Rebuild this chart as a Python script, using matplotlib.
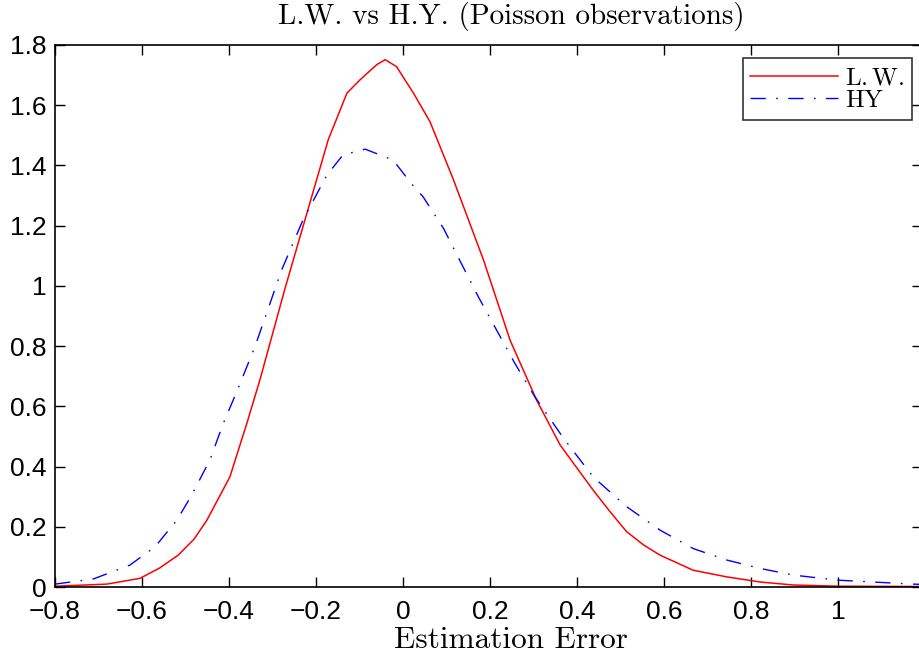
import numpy as np
import matplotlib.pyplot as plt

plt.rcParams['font.family'] = ['Liberation Sans Narrow', 'Liberation Sans', 'DejaVu Sans']
plt.rcParams['axes.unicode_minus'] = True
plt.rcParams['mathtext.fontset'] = 'cm'

# L.W. estimator error density
lw_x = [-0.8, -0.681, -0.605, -0.56, -0.517, -0.48, -0.451, -0.398, -0.359,
        -0.329, -0.271, -0.21, -0.172, -0.129, -0.099, -0.06, -0.041, -0.015,
        0.024, 0.062, 0.116, 0.185, 0.246, 0.307, 0.361, 0.437, 0.476, 0.514,
        0.553, 0.591, 0.667, 0.744, 0.821, 0.897, 1.0, 1.193]
lw_y = [0.003, 0.01, 0.029, 0.063, 0.106, 0.16, 0.222, 0.366, 0.544,
        0.688, 0.993, 1.296, 1.485, 1.64, 1.684, 1.735, 1.751, 1.728,
        1.64, 1.545, 1.352, 1.086, 0.82, 0.621, 0.472, 0.322, 0.25, 0.184,
        0.14, 0.106, 0.056, 0.034, 0.017, 0.007, 0.003, 0.002]

# HY estimator error density
hy_x = [-0.8, -0.712, -0.628, -0.57, -0.52, -0.486, -0.444, -0.413, -0.379,
        -0.34, -0.279, -0.23, -0.175, -0.138, -0.087, -0.023, 0.02, 0.046,
        0.093, 0.173, 0.257, 0.303, 0.369, 0.437, 0.514, 0.591, 0.667, 0.744,
        0.821, 0.897, 1.0, 1.172, 1.193]
hy_y = [0.01, 0.027, 0.073, 0.134, 0.222, 0.305, 0.422, 0.544, 0.66,
        0.8, 1.053, 1.219, 1.368, 1.435, 1.454, 1.418, 1.338, 1.296,
        1.191, 0.964, 0.743, 0.632, 0.494, 0.366, 0.267, 0.189, 0.128, 0.09,
        0.062, 0.04, 0.023, 0.01, 0.009]

x_ticks = [-0.8, -0.6, -0.4, -0.2, 0, 0.2, 0.4, 0.6, 0.8, 1]
y_ticks = [0, 0.2, 0.4, 0.6, 0.8, 1, 1.2, 1.4, 1.6, 1.8]

fig = plt.figure(figsize=(9.2, 6.56), dpi=100)
# right spine sits just past the canvas edge, as in the original crop
ax = fig.add_axes([0.0598, 0.105, 0.9424, 0.8265])

ax.plot(lw_x, lw_y, '-', color='red', linewidth=1.1, label=r'$\mathrm{L.W.}$')
ax.plot(hy_x, hy_y, color='blue', linewidth=1.0, dashes=(11, 7.5, 1.2, 7.5),
        label=r'$\mathrm{HY}$')

ax.set_xlim(-0.8, 1.193)
ax.set_ylim(0, 1.8)
ax.set_xticks(x_ticks)
ax.set_yticks(y_ticks)
ax.set_xticklabels(['%g' % v if v >= 0 else '\u2212%g' % -v for v in x_ticks])
ax.set_yticklabels(['%g' % v for v in y_ticks])
ax.tick_params(direction='in', top=True, right=True, length=7, width=1,
               labelsize=19)
ax.tick_params(axis='x', pad=9)
ax.tick_params(axis='y', pad=6)
for s in ax.spines.values():
    s.set_linewidth(1.2)

# title and x label are centred a bit right of the axes centre in the original
fig.text(511 / 920, 1 - 24 / 656, 'L.W. vs H.Y. (Poisson observations)',
         family='cmr10', size=21, ha='center', va='baseline')
fig.text(511 / 920, 1 - 648 / 656, 'Estimation Error',
         family='cmr10', size=22.5, ha='center', va='baseline')

leg = ax.legend(loc='upper right', prop={'size': 18},
                frameon=True, fancybox=False, edgecolor='black',
                labelspacing=-0.05, handlelength=3.5, handletextpad=0.3,
                borderpad=0.3, borderaxespad=0.0,
                bbox_to_anchor=((912 - 55) / 867, (587 - 58) / 542))
leg.get_frame().set_linewidth(1.2)

fig.savefig('out.png', dpi=100)
